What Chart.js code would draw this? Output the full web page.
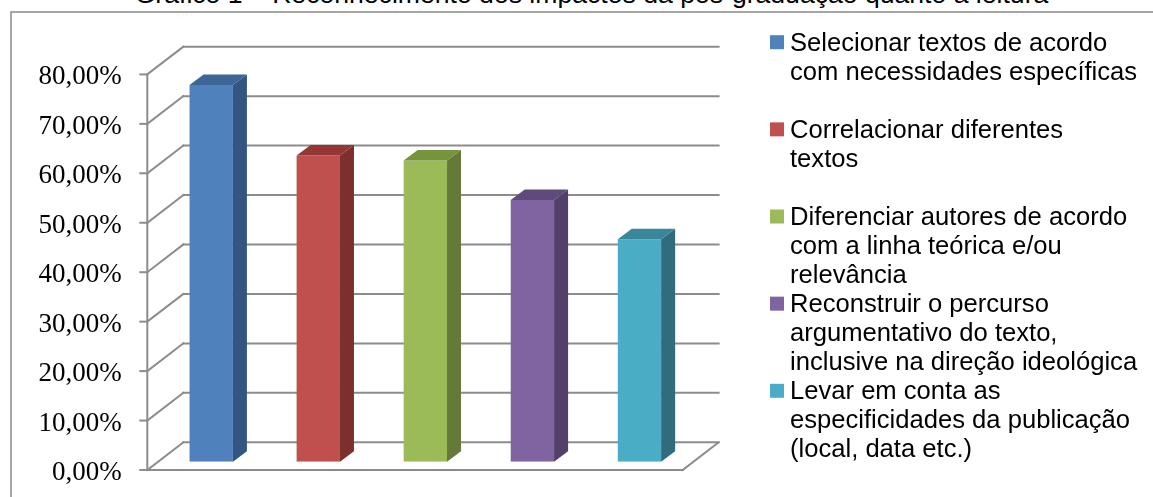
<!DOCTYPE html>
<html>
<head>
<meta charset="utf-8">
<script src="https://cdn.jsdelivr.net/npm/chart.js@4/dist/chart.umd.min.js"></script>
<style>
  body { margin: 0; background: #fff; }
  #wrap { position: relative; width: 1153px; height: 497px; overflow: hidden; }
  #titulo {
    position: absolute; left: 0; width: 1183px; top: -21px;
    text-align: center; font: 26.6px "Liberation Sans", Arial, sans-serif; color: #000;
    white-space: nowrap;
  }
  #grafico { position: absolute; left: 0; top: 0; }
</style>
</head>
<body>
<div id="wrap">
  <div id="titulo">Gráfico 1 – Reconhecimento dos impactos da pós-graduação quanto à leitura</div>
  <canvas id="grafico" width="1153" height="497"></canvas>
</div>
<script>
const categorias = [
  ["Selecionar textos de acordo", "com necessidades específicas"],
  ["Correlacionar diferentes", "textos"],
  ["Diferenciar autores de acordo", "com a linha teórica e/ou", "relevância"],
  ["Reconstruir o percurso", "argumentativo do texto,", "inclusive na direção ideológica"],
  ["Levar em conta as", "especificidades da publicação", "(local, data etc.)"]
];
const percentuais = [76.2, 61.9, 60.9, 52.9, 45.0];
const eixo_min = 0, eixo_max = 80, eixo_passo = 10;

const cor_frente = ["#4F81BD", "#C0504D", "#9BBB59", "#8064A2", "#4BACC6"];
const cor_lado = ["#325581", "#7C302E", "#657A38", "#523F6A", "#306C7B"];
const cor_topo = ["#3D6596", "#943634", "#77933C", "#5F4A7C", "#38879B"];

// deslocamentos da perspectiva em relação ao plano das barras
const FRENTE = { dx: -10.4, dy: 8.3 };
const FUNDO = { dx: 25.6, dy: -19.4 };
const PROF = { dx: 14, dy: -10.5 };

function linha(ctx, x1, y1, x2, y2) {
  ctx.beginPath();
  ctx.moveTo(x1, y1);
  ctx.lineTo(x2, y2);
  ctx.stroke();
}

const paredes3d = {
  id: "paredes3d",
  beforeDatasetsDraw(chart) {
    const ctx = chart.ctx, y = chart.scales.y, a = chart.chartArea;
    ctx.save();
    // moldura
    ctx.strokeStyle = "#888";
    ctx.lineWidth = 1.5;
    ctx.strokeRect(11, 12, 1200, 600);

    ctx.strokeStyle = "#8c8c8c";
    ctx.lineWidth = 2;
    ctx.lineCap = "square";
    y.ticks.forEach(t => {
      const py = y.getPixelForValue(t.value);
      linha(ctx, a.left + FUNDO.dx, py + FUNDO.dy, a.right + FUNDO.dx, py + FUNDO.dy);
      linha(ctx, a.left + FRENTE.dx, py + FRENTE.dy, a.left + FUNDO.dx, py + FUNDO.dy);
      linha(ctx, a.left + FRENTE.dx - 7, py + FRENTE.dy, a.left + FRENTE.dx, py + FRENTE.dy);
    });
    const y0 = y.getPixelForValue(eixo_min), yM = y.getPixelForValue(eixo_max);
    // eixo vertical da frente
    linha(ctx, a.left + FRENTE.dx, y0 + FRENTE.dy, a.left + FRENTE.dx, yM + FRENTE.dy);
    // piso
    linha(ctx, a.left + FRENTE.dx, y0 + FRENTE.dy, a.right + FRENTE.dx, y0 + FRENTE.dy);
    linha(ctx, a.right + FRENTE.dx, y0 + FRENTE.dy, a.right + FUNDO.dx, y0 + FUNDO.dy);

    // rótulos do eixo
    ctx.fillStyle = "#000";
    ctx.font = '27px "Liberation Serif", "Times New Roman", serif';
    ctx.textAlign = "right";
    ctx.textBaseline = "middle";
    y.ticks.forEach(t => {
      const py = y.getPixelForValue(t.value);
      const txt = t.value.toFixed(2).replace(".", ",") + "%";
      ctx.fillText(txt, a.left + FRENTE.dx - 25.6, py + FRENTE.dy + 3);
    });
    ctx.restore();
  },
  afterDatasetsDraw(chart) {
    const ctx = chart.ctx;
    const meta = chart.getDatasetMeta(0);
    ctx.save();
    meta.data.forEach((bar, i) => {
      const p = bar.getProps(["x", "y", "width", "base"], true);
      const l = p.x - p.width / 2, r = p.x + p.width / 2;
      // lateral
      ctx.fillStyle = cor_lado[i];
      ctx.beginPath();
      ctx.moveTo(r, p.y);
      ctx.lineTo(r + PROF.dx, p.y + PROF.dy);
      ctx.lineTo(r + PROF.dx, p.base + PROF.dy);
      ctx.lineTo(r, p.base);
      ctx.closePath();
      ctx.fill();
      // topo
      ctx.fillStyle = cor_topo[i];
      ctx.beginPath();
      ctx.moveTo(l, p.y);
      ctx.lineTo(l + PROF.dx, p.y + PROF.dy);
      ctx.lineTo(r + PROF.dx, p.y + PROF.dy);
      ctx.lineTo(r, p.y);
      ctx.closePath();
      ctx.fill();
    });
    ctx.restore();
  },
  afterDraw(chart) {
    // legenda
    const ctx = chart.ctx;
    ctx.save();
    ctx.font = '25.6px "Liberation Sans", Arial, sans-serif';
    ctx.textAlign = "left";
    ctx.textBaseline = "alphabetic";
    categorias.forEach((linhas, i) => {
      const base = 50.7 + 87.15 * i;
      ctx.fillStyle = cor_frente[i];
      ctx.fillRect(770, base - 15.5, 14, 14);
      ctx.fillStyle = "#000";
      linhas.forEach((txt, j) => ctx.fillText(txt, 790, base + 29.05 * j));
    });
    ctx.restore();
  }
};

new Chart(document.getElementById("grafico"), {
  type: "bar",
  data: {
    labels: categorias,
    datasets: [{
      data: percentuais,
      backgroundColor: cor_frente,
      borderWidth: 0,
      categoryPercentage: 1,
      barPercentage: 0.405
    }]
  },
  options: {
    responsive: false,
    animation: false,
    layout: { padding: { left: 157.7, right: 460, top: 66.1, bottom: 35.3 } },
    scales: {
      x: { display: false },
      y: { display: false, min: eixo_min, max: eixo_max, ticks: { stepSize: eixo_passo } }
    },
    plugins: {
      legend: { display: false },
      tooltip: { enabled: false }
    }
  },
  plugins: [paredes3d]
});
</script>
</body>
</html>
